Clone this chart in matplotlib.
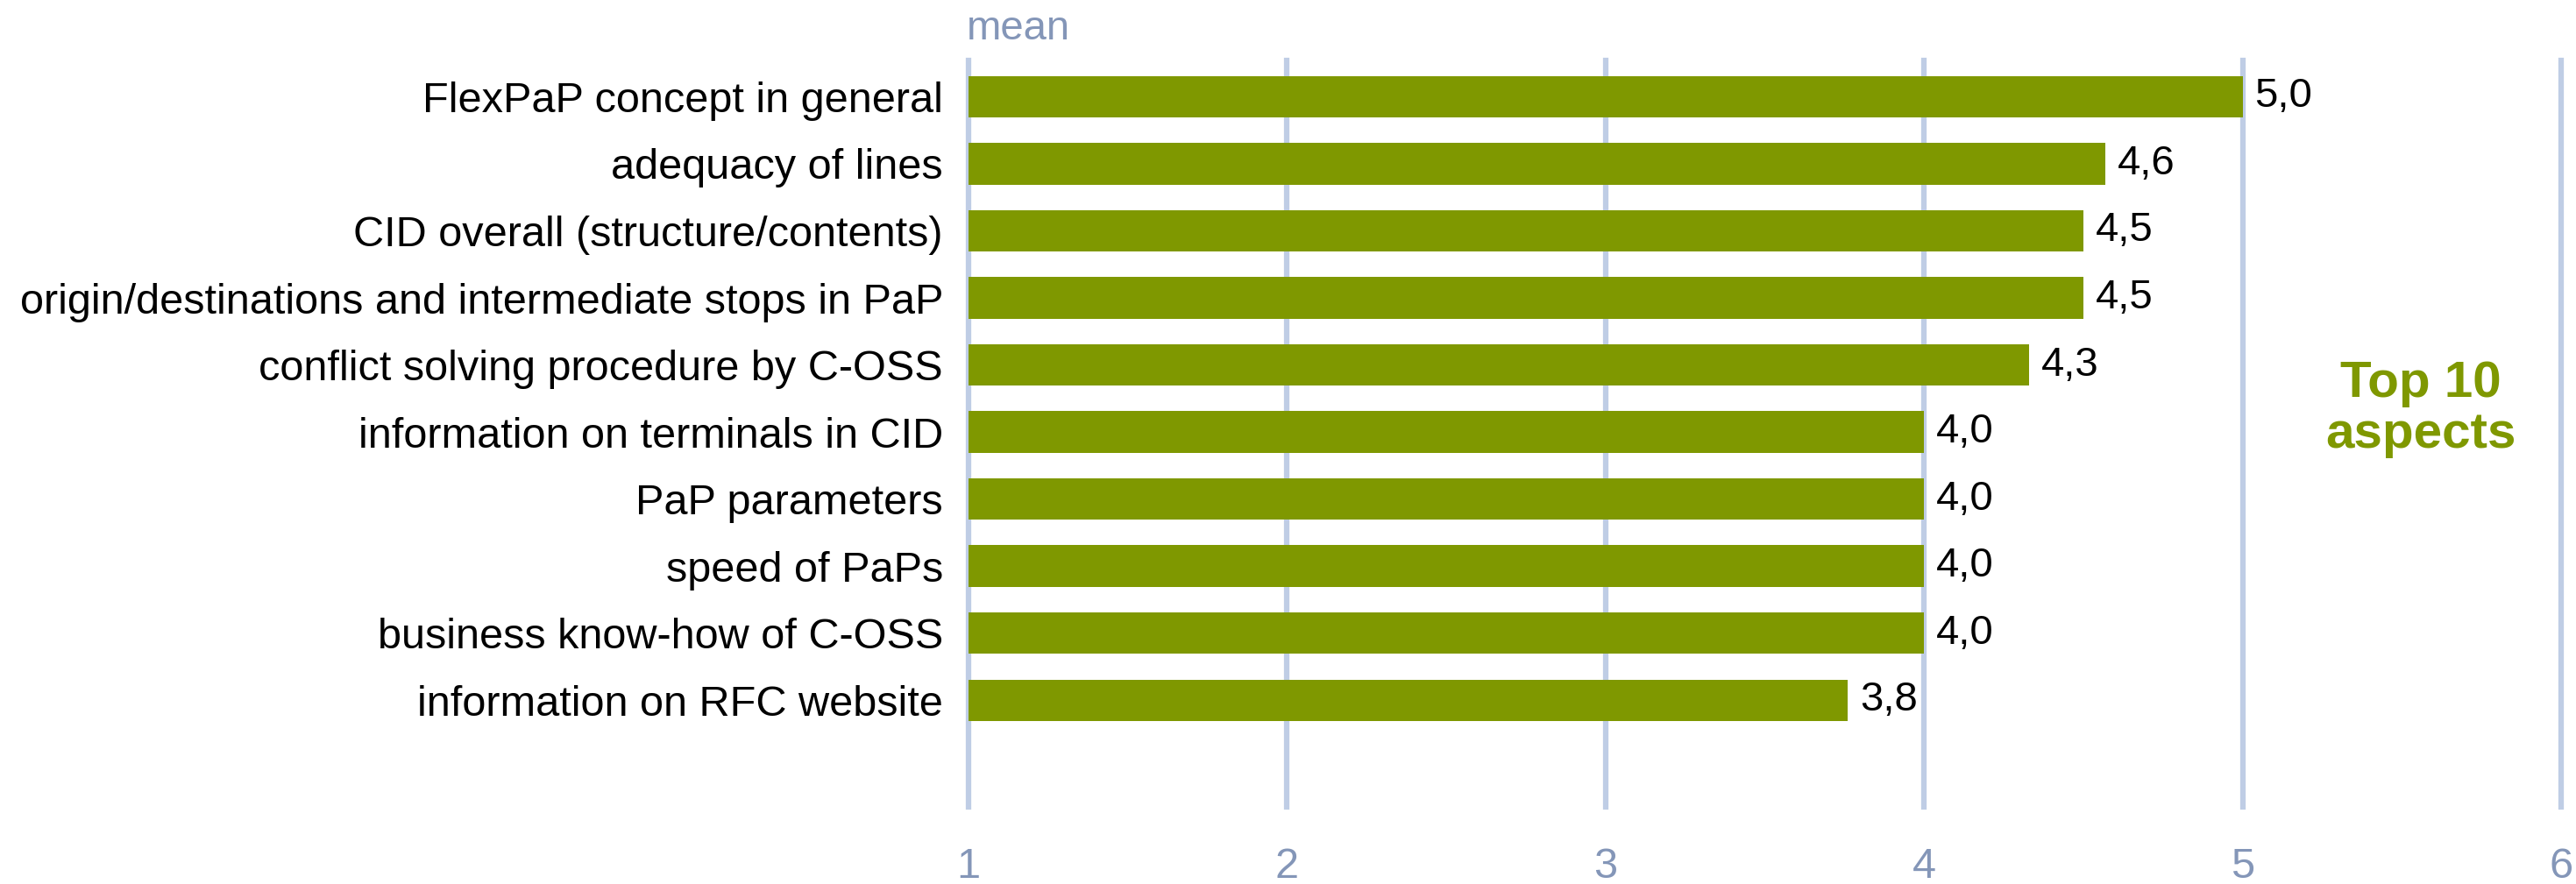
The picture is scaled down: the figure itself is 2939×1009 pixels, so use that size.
import numpy as np
import matplotlib
matplotlib.use("Agg")
import matplotlib.pyplot as plt

plt.rcParams['font.family'] = ['Liberation Sans', 'DejaVu Sans']

# satisfaction survey, top 10 aspects by mean score (scale 1-6)
aspects = [
    "FlexPaP concept in general",
    "adequacy of lines",
    "CID overall (structure/contents)",
    "origin/destinations and intermediate stops in PaP",
    "conflict solving procedure by C-OSS",
    "information on terminals in CID",
    "PaP parameters",
    "speed of PaPs",
    "business know-how of C-OSS",
    "information on RFC website",
]
means = [5.0, 4.57, 4.5, 4.5, 4.33, 4.0, 4.0, 4.0, 4.0, 3.76]
scale_ticks = [1, 2, 3, 4, 5, 6]

olive = '#7F9800'
grid_blue = '#BFCDE5'
axis_text = '#8496B8'

fig = plt.figure(figsize=(29.39, 10.09), dpi=100)
ax = fig.add_axes([0.376, 0.0872, 0.6182, 0.8444])

ypos = np.arange(len(aspects))
vals = np.array(means)
ax.barh(ypos, vals - 1, left=1, height=0.62, color=olive, zorder=3)

for y, v in zip(ypos, vals):
    ax.annotate(f"{v:.1f}".replace('.', ','), (v, y), xytext=(10, 0),
                textcoords='offset points', va='center', ha='left',
                fontsize=34, color='black')

ax.set_xlim(1, 6)
ax.set_ylim(10.59, -0.54)
ax.set_xticks(scale_ticks)
ax.set_xticklabels([str(t) for t in scale_ticks])
ax.set_yticks(ypos)
ax.set_yticklabels(aspects)
ax.tick_params(axis='x', length=0, pad=33, labelsize=35, labelcolor=axis_text)
ax.tick_params(axis='y', length=0, pad=21, labelsize=35, labelcolor='black')

for s in ax.spines.values():
    s.set_visible(False)

ax.set_axisbelow(True)
ax.xaxis.grid(True, color=grid_blue, linewidth=4.5)
ax.yaxis.grid(False)
for gl in ax.get_xgridlines():
    gl.set_clip_on(False)

fig.text(1103 / 2939, 1 - 45 / 1009, "mean", ha='left', va='baseline',
         fontsize=34, color=axis_text)

fig.text(2762 / 2939, 1 - 467 / 1009, "Top 10\naspects", ha='center',
         va='center', fontsize=42, fontweight='bold', color=olive,
         linespacing=1.08)

fig.savefig('out.png', dpi=100)
